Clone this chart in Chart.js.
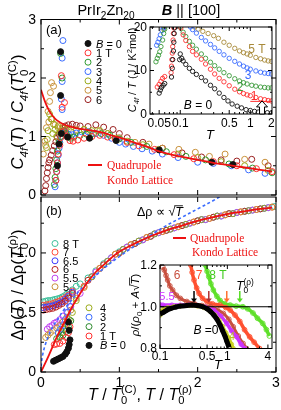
<!DOCTYPE html>
<html><head><meta charset="utf-8">
<script src="https://cdn.jsdelivr.net/npm/chart.js@4.4.1/dist/chart.umd.min.js"></script>
<style>
html,body{margin:0;padding:0;background:#fff;}
#wrap{position:relative;width:281px;height:410px;overflow:hidden;background:#fff;}
#wrap canvas{position:absolute;}
</style></head><body>
<div id="wrap"><canvas id="cA"></canvas><canvas id="cB"></canvas><canvas id="cIA"></canvas><canvas id="cIB"></canvas></div>
<script>
// ================= DATA =================
// Panel (a): C4f(T)/C4f(T0) vs T/T0  — [T/T0, ratio]
const catA = ['B = 0','1 T','2','3','4','5','6'];
const colorA = ['#111111','#ff3030','#2e9a2e','#3a6cff','#9aab1a','#c8913a','#9a2020'];
const aB0 = [[0.25,2.45],[0.25,1.70],[0.21,0.5],[0.23,0.87],[0.26,1.05],[0.34,0.99],[0.62,0.97],[0.96,0.93],[1.51,0.77],[2.18,0.56],[2.45,0.52]];
const a1T = [[0.26,2.04],[0.30,1.58],[0.27,1.5],[0.19,0.25],[0.2,0.4],[0.21,0.55],[0.22,0.7],[0.24,0.85],[0.25,0.98],[0.27,1.08],[0.3,1.1],[0.33,1.0],[0.37,0.93],[0.41,0.92],[0.47,0.94],[0.55,0.97],[0.65,1.0],[0.75,1.02],[0.85,0.99],[0.95,0.95],[1.1,0.9],[1.25,0.84],[1.45,0.78],[1.7,0.69],[1.95,0.62],[2.2,0.57],[2.5,0.5],[2.75,0.45],[2.95,0.4]];
const a2T = [[0.25,2.42],[0.27,2.0],[0.17,0.18],[0.18,0.3],[0.19,0.45],[0.2,0.6],[0.21,0.75],[0.23,0.9],[0.25,1.0],[0.27,1.07],[0.29,1.1],[0.32,1.05],[0.35,0.99],[0.38,0.97],[0.42,0.99],[0.5,1.02],[0.58,1.04],[0.67,1.05],[0.77,1.05],[0.88,1.02],[1.0,0.96],[1.15,0.9],[1.35,0.83],[1.6,0.74],[1.85,0.66],[2.1,0.6],[2.4,0.53],[2.7,0.46],[2.95,0.38]];
const a3T = [[0.28,2.64],[0.27,2.34],[0.27,1.94],[0.26,1.64],[0.27,1.46],[0.18,0.14],[0.19,0.25],[0.2,0.4],[0.21,0.55],[0.22,0.68],[0.23,0.8],[0.24,0.9],[0.26,1.0],[0.28,1.06],[0.31,1.08],[0.35,1.04],[0.4,1.03],[0.45,1.06],[0.52,1.08],[0.6,1.08],[0.7,1.05],[0.8,1.02],[0.9,0.97],[1.0,0.9],[1.08,0.87],[1.18,0.83],[1.29,0.79],[1.42,0.75],[1.55,0.7],[1.75,0.64],[2.0,0.56],[2.2,0.54],[2.43,0.5],[2.65,0.43],[2.86,0.37]];
const a4T = [[0.07,0.81],[0.08,0.95],[0.09,1.1],[0.11,1.38],[0.13,1.3],[0.16,1.21],[0.15,1.05],[0.18,1.12],[0.2,1.0],[0.22,1.15],[0.25,1.08],[0.28,1.1],[0.32,1.12],[0.38,1.08],[0.45,1.1],[0.55,1.12],[0.65,1.1],[0.75,1.1],[0.85,1.05],[0.95,0.97],[1.1,0.92],[1.3,0.86],[1.5,0.78],[1.75,0.7],[2.0,0.64],[2.3,0.57],[2.6,0.5],[2.9,0.42]];
const a5T = [[0.03,0.7],[0.05,0.92],[0.07,1.15],[0.09,1.43],[0.11,1.6],[0.135,1.92],[0.16,1.86],[0.12,1.75],[0.1,1.25],[0.06,0.85],[0.14,1.3],[0.18,1.2],[0.22,1.18],[0.27,1.15],[0.35,1.12],[0.45,1.12],[0.55,1.12],[0.62,1.08],[0.72,1.1],[0.85,1.05],[1.0,0.98],[1.2,0.9],[1.38,0.87],[1.55,0.8],[1.76,0.78],[1.97,0.73],[2.15,0.66],[2.35,0.7],[2.6,0.61],[2.86,0.56]];
const a6T = [[0.05,0.07],[0.06,0.16],[0.07,0.28],[0.08,0.38],[0.09,0.47],[0.1,0.55],[0.11,0.6],[0.13,0.68],[0.15,0.76],[0.17,0.84],[0.19,0.91],[0.21,0.98],[0.23,1.04],[0.25,1.09],[0.28,1.14],[0.31,1.18],[0.35,1.2],[0.4,1.21],[0.45,1.19],[0.5,1.18],[0.6,1.17],[0.7,1.2],[0.8,1.16],[0.92,1.12],[1.0,1.05],[1.1,0.98],[1.3,0.9],[1.55,0.8],[1.8,0.72],[2.05,0.65],[2.3,0.6],[2.5,0.58],[2.69,0.61],[2.9,0.5]];
const qkA = [[0,1.8],[0.05,1.6],[0.1,1.45],[0.15,1.35],[0.2,1.28],[0.3,1.2],[0.4,1.16],[0.5,1.13],[0.6,1.11],[0.7,1.09],[0.8,1.06],[0.9,1.02],[1.0,0.98],[1.1,0.94],[1.2,0.89],[1.3,0.85],[1.4,0.8],[1.5,0.75],[1.6,0.71],[1.8,0.65],[2.0,0.6],[2.2,0.55],[2.4,0.51],[2.6,0.47],[2.8,0.43],[2.95,0.4]];

// Panel (b): Δρ(T)/Δρ(T0) vs T/T0
const catB1 = ['8 T','7','6.5','6','5.5','5'];
const colorB1 = ['#3cbf9a','#ff4a3a','#3a3aff','#b82020','#c040f0','#c8913a'];
const catB2 = ['4','3','2','1 T','B = 0'];
const colorB2 = ['#9aab1a','#3a6cff','#2e8a2e','#ff3030','#111111'];
const b8T = [[0.03,0.59],[0.06,0.595],[0.09,0.6],[0.12,0.6],[0.15,0.605],[0.18,0.61],[0.21,0.615],[0.24,0.62],[0.27,0.63],[0.30,0.64],[0.33,0.655],[0.36,0.67],[0.40,0.69],[0.45,0.72],[0.5,0.74],[0.6,0.79],[0.7,0.85],[0.8,0.91],[0.9,0.96],[1.0,1.01],[1.1,1.05],[1.2,1.08],[1.3,1.11],[1.4,1.14],[1.5,1.17],[1.6,1.19],[1.7,1.21],[1.8,1.23],[1.9,1.25],[2.0,1.27],[2.1,1.28],[2.2,1.30],[2.3,1.31],[2.4,1.33],[2.5,1.34],[2.6,1.35],[2.7,1.36],[2.8,1.37],[2.9,1.38],[2.98,1.39]];
const b7T = [[0.03,0.56],[0.07,0.565],[0.11,0.57],[0.15,0.575],[0.19,0.585],[0.23,0.595],[0.27,0.61],[0.31,0.625],[0.35,0.645],[0.40,0.68],[0.55,0.72],[0.75,0.87],[0.95,0.99],[1.15,1.07],[1.35,1.13],[1.55,1.18],[1.75,1.22],[1.95,1.26],[2.15,1.29],[2.35,1.32],[2.55,1.345],[2.75,1.365],[2.95,1.385]];
const b65T = [[0.03,0.54],[0.07,0.545],[0.11,0.55],[0.15,0.555],[0.19,0.565],[0.23,0.575],[0.27,0.59],[0.31,0.61],[0.35,0.635],[0.40,0.67],[0.65,0.8],[0.85,0.93],[1.05,1.03],[1.25,1.1],[1.45,1.16],[1.65,1.2],[1.85,1.24],[2.05,1.28],[2.25,1.31],[2.45,1.33],[2.65,1.355],[2.85,1.375]];
const b6T = [[0.03,0.52],[0.07,0.525],[0.11,0.53],[0.15,0.535],[0.19,0.545],[0.23,0.56],[0.27,0.575],[0.31,0.595],[0.35,0.62],[0.40,0.66],[0.6,0.77],[0.8,0.9],[1.0,1.0],[1.2,1.08],[1.4,1.14],[1.6,1.19],[1.8,1.23],[2.0,1.27],[2.2,1.3],[2.4,1.33],[2.6,1.35],[2.8,1.37]];
const b55T = [[0.08,0.36],[0.11,0.38],[0.14,0.39],[0.17,0.41],[0.2,0.42],[0.24,0.44],[0.28,0.47],[0.33,0.5],[0.38,0.55],[0.5,0.66],[0.7,0.84],[0.9,0.96],[1.1,1.05],[1.3,1.11],[1.5,1.17],[1.7,1.21],[1.9,1.25],[2.1,1.28],[2.3,1.31],[2.5,1.34],[2.7,1.36],[2.9,1.38]];
const b5T = [[0.06,0.29],[0.09,0.31],[0.12,0.33],[0.16,0.35],[0.2,0.37],[0.24,0.39],[0.28,0.42],[0.33,0.46],[0.38,0.52],[0.45,0.62],[0.55,0.71],[0.75,0.87],[0.95,0.99],[1.15,1.07],[1.35,1.13],[1.55,1.18],[1.75,1.22],[1.95,1.26],[2.15,1.29],[2.35,1.32],[2.55,1.345],[2.75,1.365],[2.95,1.385]];
const b4T = [[0.24,0.3],[0.27,0.33],[0.3,0.36],[0.33,0.4],[0.36,0.44],[0.4,0.5],[0.45,0.6],[0.65,0.8],[0.85,0.93],[1.05,1.03],[1.25,1.1],[1.45,1.16],[1.65,1.2],[1.85,1.24],[2.05,1.28],[2.25,1.31],[2.45,1.33],[2.65,1.355],[2.85,1.375]];
const b3T = [[0.22,0.33],[0.25,0.36],[0.28,0.39],[0.31,0.44],[0.34,0.5],[0.37,0.55]];
const b2T = [[0.2,0.28],[0.24,0.29],[0.28,0.31],[0.32,0.34],[0.35,0.38],[0.38,0.43]];
const b1T = [[0.17,0.23],[0.2,0.235],[0.24,0.24],[0.28,0.26],[0.32,0.29],[0.35,0.33],[0.37,0.38]];
const bB0 = [[0.16,0.09],[0.19,0.1],[0.22,0.11],[0.25,0.12],[0.28,0.13],[0.31,0.15],[0.33,0.17],[0.35,0.2],[0.36,0.23],[0.37,0.27],[0.36,0.35],[0.35,0.42]];
const qkB = [[0,0],[0.1,0.14],[0.2,0.29],[0.3,0.42],[0.4,0.55],[0.5,0.66],[0.6,0.76],[0.7,0.84],[0.8,0.9],[0.9,0.96],[1.0,1.01],[1.2,1.08],[1.4,1.14],[1.6,1.19],[1.8,1.23],[2.0,1.27],[2.2,1.3],[2.4,1.33],[2.6,1.35],[2.8,1.37],[2.95,1.38]];
const sqrtB = [[0,0],[0.005,0.07],[0.02,0.14],[0.05,0.22],[0.1,0.31],[0.15,0.38],[0.2,0.43],[0.3,0.53],[0.4,0.61],[0.5,0.69],[0.65,0.78],[0.8,0.87],[1.0,0.97],[1.2,1.06],[1.4,1.15],[1.6,1.23],[1.8,1.3],[2.0,1.37],[2.2,1.44],[2.3,1.48]];

// Inset (a): C4f/T (J/K^2 mol) vs T (K)
const catIA = ['5 T','3','2','1','B = 0'];
const colorIA = ['#a88a3a','#3a6cff','#3a9a3a','#ff3030','#111111'];
const ia5T = [[0.058,19.5],[0.06,20],[0.16,20],[0.18,19.5],[0.21,19],[0.25,18.5],[0.3,18],[0.35,17.4],[0.42,16.5],[0.5,15.8],[0.6,15.1],[0.7,14.5],[0.8,14.1],[0.9,13.8],[1.0,13.5],[1.2,13.0],[1.4,12.7],[1.6,12.4],[1.8,12.2],[2.0,12.1]];
const ia3T = [[0.046,15.8],[0.048,16.5],[0.05,17.3],[0.052,18.2],[0.055,19.2],[0.058,19.8],[0.14,20],[0.15,19.4],[0.17,18.6],[0.2,17.6],[0.23,16.8],[0.27,16],[0.31,15.2],[0.36,14.4],[0.42,13.6],[0.5,12.8],[0.6,12.1],[0.7,11.5],[0.8,11.0],[0.9,10.6],[1.0,10.3],[1.2,9.9],[1.4,9.6],[1.6,9.4],[1.8,9.3],[2.0,9.2]];
const ia2T = [[0.045,12],[0.047,12.8],[0.049,13.5],[0.051,14.3],[0.053,15.5],[0.056,17],[0.058,18.5],[0.06,19.5],[0.1,20],[0.11,18.8],[0.12,17.8],[0.135,16.7],[0.15,15.8],[0.17,14.9],[0.2,13.8],[0.23,12.8],[0.27,11.9],[0.31,11.1],[0.36,10.3],[0.42,9.5],[0.5,8.8],[0.6,8.1],[0.7,7.6],[0.8,7.2],[0.9,6.9],[1.05,6.6],[1.2,6.4],[1.4,6.2],[1.6,6.1],[1.8,6.0],[2.0,6.0]];
const ia1T = [[0.047,6.2],[0.05,6.8],[0.053,7.5],[0.056,8.2],[0.06,8.6],[0.074,9.5],[0.075,11],[0.076,12.5],[0.077,14],[0.078,15.5],[0.079,17],[0.08,18.5],[0.081,19.8],[0.102,19.8],[0.11,18.2],[0.12,16.9],[0.135,15.5],[0.15,14.4],[0.17,13.6],[0.2,12.6],[0.23,11.5],[0.27,10.3],[0.31,9.2],[0.36,8.2],[0.42,7.4],[0.5,6.5],[0.6,5.7],[0.7,5.1],[0.8,4.7],[0.9,4.4],[1.0,4.2],[1.2,3.8],[1.4,3.5],[1.6,3.3],[1.8,3.1],[2.0,3.0]];
const iaB0 = [[0.05,4.8],[0.052,5.5],[0.054,6.1],[0.057,6.6],[0.06,7.0],[0.075,8.5],[0.077,10.5],[0.078,12.5],[0.08,14.5],[0.081,16.5],[0.082,18.5],[0.083,19.8],[0.098,12.5],[0.1,13.8],[0.105,12.8],[0.11,12.2],[0.12,11.4],[0.135,10.5],[0.15,9.8],[0.17,9.1],[0.2,8.4],[0.23,7.6],[0.27,6.6],[0.31,5.8],[0.36,4.8],[0.42,3.8],[0.48,3.0],[0.55,2.3],[0.65,1.8],[0.75,1.4],[0.87,1.0],[1.0,0.8],[1.15,0.6],[1.3,0.45],[1.5,0.35],[1.75,0.3],[2.0,0.25]];
const iaRefLine = [[1.0,2.9],[2.04,2.9]];
const iaArrowT = 1.47, iaArrowTop = 3.0;

// Inset (b): rho/(rho0 + A sqrt(T)) vs T (K)
const catIB = ['8 T','7','6','5.5','4','B = 0'];
const colorIB = ['#5fe02a','#ff5030','#c85040','#cc33ff','#c8d020','#000000'];
const ib8T = [[0.47,1.2],[0.5,1.17],[0.53,1.144],[0.57,1.11],[0.62,1.08],[0.7,1.05],[0.78,1.03],[0.9,1.015],[1.1,1.008],[1.35,1.003],[1.7,1.0],[2.0,0.99],[2.4,0.97],[2.8,0.945],[3.35,0.92],[3.8,0.89],[4.2,0.86]];
const ib7T = [[0.286,1.2],[0.3,1.165],[0.32,1.128],[0.35,1.09],[0.38,1.064],[0.43,1.04],[0.5,1.024],[0.6,1.014],[0.78,1.008],[0.95,0.996],[1.1,0.984],[1.3,0.96],[1.53,0.93],[1.8,0.89],[2.14,0.856],[2.5,0.83],[3.0,0.8]];
const ib6T = [[0.11,1.19],[0.116,1.176],[0.123,1.15],[0.13,1.128],[0.14,1.1],[0.154,1.08],[0.175,1.055],[0.2,1.04],[0.25,1.025],[0.32,1.016],[0.42,1.006],[0.56,1.0],[0.7,0.988],[0.87,0.968],[1.05,0.94],[1.22,0.904],[1.45,0.86],[1.71,0.824],[1.92,0.8]];
const ib55T = [[0.1,1.01],[0.11,1.008],[0.15,1.008],[0.2,1.008],[0.27,1.008],[0.36,1.006],[0.47,0.998],[0.63,0.984],[0.8,0.955],[0.98,0.92],[1.15,0.885],[1.37,0.856],[1.6,0.82],[1.81,0.8]];
const ib4T = [[0.1,0.96],[0.105,0.975],[0.11,0.985],[0.13,0.995],[0.16,1.0],[0.2,1.004],[0.27,1.006],[0.36,1.004],[0.45,0.996],[0.55,0.98],[0.65,0.96],[0.75,0.935],[0.85,0.905],[0.95,0.875],[1.05,0.85],[1.15,0.82],[1.22,0.8]];
const ibB0 = [[0.1,0.965],[0.116,0.976],[0.13,0.986],[0.146,0.992],[0.17,0.998],[0.2,1.003],[0.25,1.006],[0.3,1.008],[0.36,1.006],[0.43,1.0],[0.5,0.99],[0.57,0.975],[0.63,0.96],[0.7,0.94],[0.78,0.912],[0.85,0.885],[0.93,0.856],[0.98,0.835],[1.03,0.816],[1.06,0.805]];
const ibUnity = [[0.1,1.0],[4.6,1.0]];
const ibArrowT = [0.32,0.53,0.98,1.53];
const ibArrowColor = ['#000000','#b03030','#ff7030','#55dd22'];

// Tick values / labels
const xTicksMain = [0,1,2,3], xTickLabelsMain = ['0','1','2','3'], xMinorMain = [0.5,1.5,2.5];
const yTicksA = [0,1,2,3], yTickLabelsA = ['0','1','2','3'], yMinorA = [0.5,1.5,2.5];
const yTicksB = [0,0.5,1.0], yTickLabelsB = ['0','0.5','1.0'], yMinorB = [0.25,0.75,1.25];
const xTicksIA = [0.05,0.1,0.5,1,2], xTickLabelsIA = ['0.05','0.1','0.5','1','2'], xMinorIA = [0.04,0.06,0.07,0.08,0.09,0.2,0.3,0.4,0.6,0.7,0.8,0.9];
const yTicksIA = [0,10,20], yTickLabelsIA = ['0','10','20'], yMinorIA = [5,15];
const xTicksIB = [0.1,0.5,1,4], xTickLabelsIB = ['0.1','0.5','1','4'], xMinorIB = [0.2,0.3,0.4,0.6,0.7,0.8,0.9,2,3];
const yTicksIB = [0.8,1.0,1.2], yTickLabelsIB = ['0.8','1.0','1.2'], yMinorIB = [0.9,1.1];

// ================= HELPERS =================
const FONT = '"Liberation Sans", Arial, Helvetica, sans-serif';
const SERIF = '"Liberation Serif", "Times New Roman", serif';
const P = arr => arr.map(([x,y]) => ({x, y}));
function pts(arr, color, o = {}) {
  return {data: P(arr), showLine: false, pointStyle: 'circle', pointRadius: o.r || 3, pointBorderWidth: o.bw || 1,
    pointBorderColor: color, pointBackgroundColor: o.fill ? color : 'rgba(0,0,0,0)', borderColor: color, backgroundColor: 'rgba(0,0,0,0)'};
}
function band(arr, color, w, r) {
  return {data: P(arr), showLine: true, borderColor: color, borderWidth: w, tension: 0.35, pointStyle: 'circle',
    pointRadius: r, pointBorderWidth: 0.9, pointBorderColor: color, pointBackgroundColor: 'rgba(0,0,0,0)', fill: false};
}
function line(arr, color, w, dash) {
  return {data: P(arr), showLine: true, borderColor: color, borderWidth: w, borderDash: dash || [], pointRadius: 0, tension: 0.35, fill: false};
}
function fontStr(s, size) { return (s.i ? 'italic ' : '') + (s.b ? 'bold ' : '') + size.toFixed(1) + 'px ' + (s.f || FONT); }
function segW(ctx, s, size) {
  if (s.ss) { ctx.font = fontStr(s, size * 0.7); return Math.max(ctx.measureText(s.ss[0]).width, ctx.measureText(s.ss[1]).width); }
  ctx.font = fontStr(s, (s.sub || s.sup) ? size * 0.7 : size); return ctx.measureText(s.t).width;
}
function drawRich(ctx, segs, x, y, size, color, align, rot) {
  ctx.save(); ctx.translate(x, y); if (rot) ctx.rotate(rot);
  ctx.fillStyle = color; ctx.strokeStyle = color; ctx.textAlign = 'left'; ctx.textBaseline = 'alphabetic';
  let w = 0; for (const s of segs) w += segW(ctx, s, size);
  let cx = align === 'center' ? -w / 2 : (align === 'right' ? -w : 0);
  for (const s of segs) {
    const sw = segW(ctx, s, size);
    if (s.ss) { ctx.font = fontStr(s, size * 0.7); ctx.fillText(s.ss[0], cx, size * 0.28); ctx.fillText(s.ss[1], cx, -size * 0.45); }
    else {
      const sz = (s.sub || s.sup) ? size * 0.7 : size; ctx.font = fontStr(s, sz);
      const dy = s.sub ? size * 0.28 : (s.sup ? -size * 0.4 : 0);
      ctx.fillText(s.t, cx, dy);
      if (s.ol) { ctx.lineWidth = Math.max(0.8, size * 0.07); ctx.beginPath(); ctx.moveTo(cx - 1, dy - size * 0.82); ctx.lineTo(cx + sw, dy - size * 0.82); ctx.stroke(); }
    }
    cx += sw;
  }
  ctx.restore();
}
function labelSegs(lab) { return lab.startsWith('B') ? [{t:'B', i:1}, {t: lab.slice(1)}] : [{t: lab}]; }
function marker(ctx, x, y, color, fill, r) {
  ctx.beginPath(); ctx.arc(x, y, r || 3, 0, Math.PI * 2); ctx.lineWidth = 1; ctx.strokeStyle = color;
  if (fill) { ctx.fillStyle = color; ctx.fill(); } ctx.stroke();
}
function framePlugin(cfg) {
  return {
    id: 'frame',
    afterDraw(chart) {
      const {ctx, chartArea: a, scales: {x, y}} = chart;
      ctx.save();
      ctx.strokeStyle = '#000'; ctx.lineWidth = cfg.lw || 1;
      ctx.strokeRect(a.left, a.top, a.right - a.left, a.bottom - a.top);
      const tk = (x1, y1, x2, y2) => { ctx.beginPath(); ctx.moveTo(x1, y1); ctx.lineTo(x2, y2); ctx.stroke(); };
      [[cfg.xMajor, cfg.tl], [cfg.xMinor || [], cfg.tm]].forEach(([vals, len]) => vals.forEach(v => {
        const px = x.getPixelForValue(v); if (px < a.left - 0.5 || px > a.right + 0.5) return;
        tk(px, a.bottom, px, a.bottom - len); tk(px, a.top, px, a.top + len);
      }));
      [[cfg.yMajor, cfg.tl], [cfg.yMinor || [], cfg.tm]].forEach(([vals, len]) => vals.forEach(v => {
        const py = y.getPixelForValue(v); if (py < a.top - 0.5 || py > a.bottom + 0.5) return;
        tk(a.left, py, a.left + len, py); tk(a.right, py, a.right - len, py);
      }));
      ctx.fillStyle = '#000'; ctx.font = cfg.font;
      if (cfg.xLabels) { ctx.textAlign = 'center'; ctx.textBaseline = 'alphabetic';
        cfg.xLabels.forEach((t, i) => ctx.fillText(t, x.getPixelForValue(cfg.xMajor[i]), a.bottom + cfg.xDy)); }
      if (cfg.yLabels) { ctx.textAlign = 'right'; ctx.textBaseline = 'middle';
        cfg.yLabels.forEach((t, i) => ctx.fillText(t, a.left - cfg.yDx, y.getPixelForValue(cfg.yMajor[i]) + 0.5)); }
      if (cfg.extra) {
        const S = (vx, vy) => [x.getPixelForValue(vx) + cfg.ox, y.getPixelForValue(vy) + cfg.oy];
        ctx.translate(-cfg.ox, -cfg.oy); cfg.extra(ctx, S);
      }
      ctx.restore();
    }
  };
}
function makeChart(id, box, area, sx, sy, datasets, cfg) {
  const cv = document.getElementById(id);
  cv.width = box.w; cv.height = box.h;
  Object.assign(cv.style, {left: box.x + 'px', top: box.y + 'px', width: box.w + 'px', height: box.h + 'px'});
  return new Chart(cv, {
    type: 'scatter', data: {datasets},
    options: {responsive: false, animation: false, devicePixelRatio: 1, events: [],
      layout: {padding: {left: area.l - box.x, right: box.x + box.w - area.r, top: area.t - box.y, bottom: box.y + box.h - area.b}},
      plugins: {legend: {display: false}, tooltip: {enabled: false}},
      scales: {x: Object.assign({display: false}, sx), y: Object.assign({display: false}, sy)}},
    plugins: [framePlugin(Object.assign({ox: box.x, oy: box.y}, cfg))]
  });
}

// ================= PANEL (a) =================
makeChart('cA', {x:0, y:0, w:281, h:200}, {l:41, r:278, t:19.5, b:196},
  {type:'linear', min:0, max:3}, {type:'linear', min:0, max:3},
  [line(qkA, '#ee1111', 1.8),
   pts(aB0, colorA[0], {fill:true}), pts(a1T, colorA[1]), pts(a2T, colorA[2]), pts(a3T, colorA[3]),
   pts(a4T, colorA[4]), pts(a5T, colorA[5]), pts(a6T, colorA[6])],
  {xMajor: xTicksMain, xMinor: xMinorMain, yMajor: yTicksA, yMinor: yMinorA, tl: 5, tm: 3,
   yLabels: yTickLabelsA, yDx: 5, font: '14px ' + FONT,
   extra(ctx) {
     drawRich(ctx, [{t:'PrIr'}, {t:'2', sub:1}, {t:'Zn'}, {t:'20', sub:1}], 106, 15, 14.5, '#000', 'center');
     drawRich(ctx, [{t:'B', b:1, i:1}, {t:' || [100]'}], 191, 15, 14.5, '#000', 'center');
     drawRich(ctx, [{t:'(a)'}], 46, 34, 13, '#000', 'left');
     catA.forEach((lab, i) => { const yy = 43.5 + i * 9.35; marker(ctx, 88, yy, colorA[i], i === 0); drawRich(ctx, labelSegs(lab), 96, yy + 4, 11, '#000', 'left'); });
     ctx.strokeStyle = '#ee1111'; ctx.lineWidth = 2; ctx.beginPath(); ctx.moveTo(88, 165); ctx.lineTo(102, 165); ctx.stroke();
     drawRich(ctx, [{t:'Quadrupole', f:SERIF}], 107, 169, 11.5, '#ee1111', 'left');
     drawRich(ctx, [{t:'Kondo Lattice', f:SERIF}], 107, 184, 11.5, '#ee1111', 'left');
     drawRich(ctx, [{t:'C', i:1}, {t:'4f', sub:1, i:1}, {t:'('}, {t:'T', i:1}, {t:') / '}, {t:'C', i:1}, {t:'4f', sub:1, i:1}, {t:'('}, {t:'T', i:1}, {ss:['0', '(C)']}, {t:')'}], 23, 112, 16.5, '#000', 'center', -Math.PI / 2);
   }});

// ================= PANEL (b) =================
makeChart('cB', {x:0, y:190, w:281, h:220}, {l:41, r:278, t:197, b:372},
  {type:'linear', min:0, max:3}, {type:'linear', min:0, max:1.47},
  [line(qkB, '#ee1111', 1.8), line(sqrtB, '#3a6cff', 1.6, [3, 2.5]),
   pts(bB0, colorB2[4], {fill:true}), pts(b1T, colorB2[3]), pts(b2T, colorB2[2]), pts(b3T, colorB2[1]), pts(b4T, colorB2[0]),
   pts(b5T, colorB1[5]), pts(b55T, colorB1[4]), pts(b6T, colorB1[3]), pts(b65T, colorB1[2]), pts(b7T, colorB1[1]), pts(b8T, colorB1[0])],
  {xMajor: xTicksMain, xMinor: xMinorMain, yMajor: yTicksB, yMinor: yMinorB, tl: 5, tm: 3,
   xLabels: xTickLabelsMain, xDy: 15, yLabels: yTickLabelsB, yDx: 5, font: '14px ' + FONT,
   extra(ctx) {
     drawRich(ctx, [{t:'(b)'}], 46, 215, 13, '#000', 'left');
     drawRich(ctx, [{t:'Δρ'}, {t:' ∝ '}, {t:'√'}, {t:'T', i:1, ol:1}], 137, 216, 12.5, '#000', 'left');
     catB1.forEach((lab, i) => { const yy = 243.5 + i * 8.65; marker(ctx, 55, yy, colorB1[i], false); drawRich(ctx, labelSegs(lab), 63, yy + 4, 11, '#000', 'left'); });
     catB2.forEach((lab, i) => { const yy = 307.8 + i * 9.4; marker(ctx, 89, yy, colorB2[i], i === 4); drawRich(ctx, labelSegs(lab), 100, yy + 4, 11, '#000', 'left'); });
     ctx.strokeStyle = '#ee1111'; ctx.lineWidth = 2; ctx.beginPath(); ctx.moveTo(173, 238); ctx.lineTo(186, 238); ctx.stroke();
     drawRich(ctx, [{t:'Quadrupole', f:SERIF}], 190, 242, 11.5, '#ee1111', 'left');
     drawRich(ctx, [{t:'Kondo Lattice', f:SERIF}], 192, 256, 11.5, '#ee1111', 'left');
     drawRich(ctx, [{t:'Δρ('}, {t:'T', i:1}, {t:') / Δρ('}, {t:'T', i:1}, {ss:['0', '(ρ)']}, {t:')'}], 23, 285, 16.5, '#000', 'center', -Math.PI / 2);
     drawRich(ctx, [{t:'T', i:1}, {t:' / '}, {t:'T', i:1}, {ss:['0', '(C)']}, {t:', '}, {t:'T', i:1}, {t:' / '}, {t:'T', i:1}, {ss:['0', '(ρ)']}], 140, 400, 16, '#000', 'center');
   }});

// ================= INSET (a) =================
makeChart('cIA', {x:118, y:20, w:163, h:125}, {l:150, r:272, t:27, b:114},
  {type:'logarithmic', min:0.037, max:2.04}, {type:'linear', min:0, max:20},
  [line(iaRefLine, '#ff3030', 1),
   pts(iaB0, colorIA[4], {r:2.2, bw:0.9}), pts(ia1T, colorIA[3], {r:2.2, bw:0.9}), pts(ia2T, colorIA[2], {r:2.2, bw:0.9}),
   pts(ia3T, colorIA[1], {r:2.2, bw:0.9}), pts(ia5T, colorIA[0], {r:2.2, bw:0.9})],
  {xMajor: xTicksIA, xMinor: xMinorIA, yMajor: yTicksIA, yMinor: yMinorIA, tl: 4, tm: 2,
   xLabels: xTickLabelsIA, xDy: 13, yLabels: yTickLabelsIA, yDx: 3, font: '12px ' + FONT,
   extra(ctx, S) {
     const [ax, ay0] = S(iaArrowT, 0), [, ay1] = S(iaArrowT, iaArrowTop);
     ctx.beginPath(); ctx.moveTo(ax - 2.5, ay0); ctx.lineTo(ax - 2.5, ay1 + 6); ctx.lineTo(ax - 5.5, ay1 + 6); ctx.lineTo(ax, ay1);
     ctx.lineTo(ax + 5.5, ay1 + 6); ctx.lineTo(ax + 2.5, ay1 + 6); ctx.lineTo(ax + 2.5, ay0); ctx.closePath();
     ctx.fillStyle = '#fff'; ctx.fill(); ctx.strokeStyle = '#000'; ctx.lineWidth = 1; ctx.stroke();
     drawRich(ctx, [{t:'5 T'}], 257, 53, 12, colorIA[0], 'center');
     drawRich(ctx, [{t:'3'}], 248, 79, 12, colorIA[1], 'center');
     drawRich(ctx, [{t:'2'}], 240, 91, 12, colorIA[2], 'center');
     drawRich(ctx, [{t:'1'}], 254, 100, 12, colorIA[3], 'center');
     drawRich(ctx, labelSegs('B = 0'), 198, 109, 12, '#000', 'center');
     drawRich(ctx, [{t:'T', i:1}], 210, 139, 13, '#000', 'center');
     drawRich(ctx, [{t:'C', i:1}, {t:'4f', sub:1, i:1}, {t:' / '}, {t:'T', i:1}, {t:' (J / K'}, {t:'2', sup:1}, {t:'mol)'}], 136, 70, 11, '#000', 'center', -Math.PI / 2);
   }});

// ================= INSET (b) =================
makeChart('cIB', {x:122, y:256, w:159, h:118}, {l:160, r:272, t:265, b:348.5},
  {type:'logarithmic', min:0.1, max:4.6}, {type:'linear', min:0.8, max:1.2},
  [line(ibUnity, '#000', 1.2),
   band(ibB0, colorIB[5], 5, 2), band(ib4T, colorIB[4], 3.5, 2.2), band(ib55T, colorIB[3], 3.5, 2.2),
   band(ib6T, colorIB[2], 3, 2.4), band(ib7T, colorIB[1], 3.5, 2.4), band(ib8T, colorIB[0], 3.5, 2.4)],
  {xMajor: xTicksIB, xMinor: xMinorIB, yMajor: yTicksIB, yMinor: yMinorIB, tl: 4, tm: 2,
   xLabels: xTickLabelsIB, xDy: 11, yLabels: yTickLabelsIB, yDx: 3, font: '12px ' + FONT,
   extra(ctx, S) {
     ibArrowT.forEach((t, i) => {
       const [ax, ay0] = S(t, 1.075), [, ay1] = S(t, 1.02);
       ctx.strokeStyle = ibArrowColor[i]; ctx.fillStyle = ibArrowColor[i]; ctx.lineWidth = 1.5;
       ctx.beginPath(); ctx.moveTo(ax, ay0); ctx.lineTo(ax, ay1 - 3); ctx.stroke();
       ctx.beginPath(); ctx.moveTo(ax - 3, ay1 - 4); ctx.lineTo(ax + 3, ay1 - 4); ctx.lineTo(ax, ay1); ctx.closePath(); ctx.fill();
     });
     drawRich(ctx, [{t:'6'}], 177, 279, 12, '#c85040', 'center');
     drawRich(ctx, [{t:'7'}], 199, 279, 12, '#ff5030', 'center');
     drawRich(ctx, [{t:'8 T'}], 218, 279, 12, '#44cc22', 'center');
     drawRich(ctx, [{t:'5.5'}], 167, 300, 11, '#cc33ff', 'center');
     drawRich(ctx, [{t:'T', i:1}, {ss:['0', '(ρ)']}], 245, 290, 12, '#000', 'center');
     drawRich(ctx, labelSegs('B =0'), 206, 334, 12, '#000', 'center');
     drawRich(ctx, [{t:'4'}], 232, 340, 10, '#b8c020', 'center');
     drawRich(ctx, [{t:'T', i:1}], 218, 369, 13, '#000', 'center');
     drawRich(ctx, [{t:'ρ', i:1}, {t:'/('}, {t:'ρ', i:1}, {t:'0', sub:1}, {t:' + '}, {t:'A', i:1}, {t:'√'}, {t:'T', i:1, ol:1}, {t:')'}], 139, 305, 11.5, '#000', 'center', -Math.PI / 2);
   }});
</script></body></html>
